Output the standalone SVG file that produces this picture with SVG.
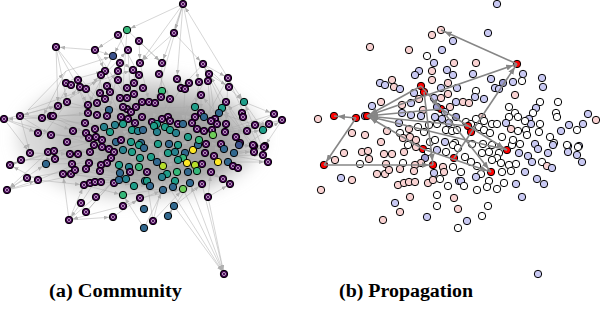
<svg xmlns="http://www.w3.org/2000/svg" xmlns:xlink="http://www.w3.org/1999/xlink" width="600" height="320" viewBox="0 0 600 320">
<style>
.ea path{fill:none;stroke:#a8a8a8;stroke-width:0.6;stroke-opacity:0.8;marker-end:url(#ha)}
.eb path{fill:none;stroke:#868686;stroke-width:1.6;marker-end:url(#hb)}
.w{fill:#ffffff}.p{fill:#f9d2d2}.b{fill:#c9c9f3}.d{fill:#9c9cd2}.r{fill:#ff0000}
.v1{fill:#3b528b}.v2{fill:#31688e}.v3{fill:#26828e}.v4{fill:#1f9e89}.v5{fill:#35b779}.v6{fill:#6ece58}.v7{fill:#b5de2b}.v8{fill:#fde725}
.lab{font-family:"Liberation Serif","Times New Roman",serif;font-weight:bold;font-size:18.5px;fill:#000}
</style>
<defs>
<marker id="ha" markerUnits="userSpaceOnUse" markerWidth="5" markerHeight="4" refX="9" refY="2" orient="auto"><path d="M0 0L5 2L0 4z" fill="#b0b0b0"/></marker>
<marker id="hb" markerUnits="userSpaceOnUse" markerWidth="7" markerHeight="6" refX="11" refY="3" orient="auto"><path d="M0 0L7 3L0 6z" fill="#868686"/></marker>
<circle id="c" r="3.7" stroke="#000" stroke-width="1"/>
<g id="pp"><circle r="3.7" fill="#440154" stroke="#000" stroke-width="1"/><circle r="1.6" fill="none" stroke="#fff" stroke-width="0.6"/></g>
<filter id="bl" x="-50%" y="-50%" width="200%" height="200%"><feGaussianBlur stdDeviation="8"/></filter>
</defs>
<rect width="600" height="320" fill="#fff"/>

<g id="density-a" filter="url(#bl)">
<ellipse cx="140" cy="138" rx="122" ry="62" fill="#c8c8c8" opacity="0.7"/>
<ellipse cx="150" cy="140" rx="100" ry="50" fill="#b0b0b0" opacity="0.6"/>
<ellipse cx="165" cy="145" rx="70" ry="40" fill="#8c8c8c" opacity="0.55"/>
</g>

<g id="connectors-a" class="ea">
<path d="M183 4L174 33"/><path d="M183 4L162 63"/><path d="M183 4L177 79"/><path d="M183 4L140 63"/><path d="M228 78L183 4"/><path d="M183 4L127 30"/><path d="M183 4L199 83"/>
<path d="M174 33L203 64"/><path d="M174 33L140 63"/><path d="M127 30L113 56"/><path d="M127 30L162 63"/><path d="M118 35L95 50"/><path d="M118 35L139 75"/>
<path d="M56 47L88 105"/><path d="M56 47L58 106"/><path d="M56 47L67 102"/><path d="M95 50L56 47"/><path d="M95 50L113 56"/><path d="M95 50L105 71"/><path d="M113 56L133 70"/>
<path d="M139 41L162 63"/><path d="M139 41L140 63"/><path d="M203 64L228 78"/><path d="M203 64L244 102"/><path d="M203 64L181 88"/><path d="M209 74L229 87"/><path d="M228 78L244 102"/><path d="M228 78L226 124"/>
<path d="M244 102L274 114"/><path d="M244 102L263 130"/><path d="M274 114L282 120"/><path d="M274 114L247 131"/><path d="M282 120L255 125"/><path d="M282 120L264 147"/>
<path d="M42 118L4 119"/><path d="M4 119L38 133"/><path d="M4 119L30 153"/><path d="M4 119L58 106"/><path d="M20 116L51 116"/><path d="M67 102L20 116"/><path d="M20 116L51 135"/><path d="M20 116L30 153"/>
<path d="M27 178L7 190"/><path d="M7 190L38 180"/><path d="M7 190L46 164"/><path d="M48 152L7 190"/><path d="M10 165L21 160"/><path d="M10 165L54 151"/><path d="M38 180L10 165"/><path d="M21 160L55 159"/>
<path d="M69 220L84 185"/><path d="M81 203L69 220"/><path d="M69 220L63 174"/><path d="M123 206L69 220"/><path d="M69 220L113 217"/><path d="M86 212L120 173"/><path d="M81 203L107 163"/><path d="M113 217L140 198"/>
<path d="M144 228L123 195"/><path d="M144 228L163 190"/><path d="M153 221L183 189"/><path d="M153 221L147 181"/><path d="M168 216L174 206"/><path d="M168 216L190 183"/><path d="M174 206L202 184"/><path d="M208 197L211 172"/><path d="M208 197L230 184"/>
<path d="M208 197L224 274"/><path d="M183 189L224 274"/><path d="M224 274L190 183"/><path d="M202 184L224 274"/><path d="M174 206L224 274"/>
<path d="M42 118L88 113"/><path d="M42 118L73 131"/><path d="M51 116L97 115"/><path d="M51 116L86 133"/><path d="M53 116L95 129"/><path d="M58 106L109 110"/><path d="M67 102L128 119"/><path d="M88 105L131 112"/>
<path d="M97 103L142 117"/><path d="M88 113L121 117"/><path d="M97 115L132 130"/><path d="M107 116L143 130"/><path d="M85 123L138 131"/><path d="M38 133L89 138"/><path d="M51 135L96 137"/><path d="M73 131L121 140"/>
<path d="M86 133L131 142"/><path d="M95 129L141 143"/><path d="M67 142L116 142"/><path d="M89 138L139 145"/><path d="M96 137L144 148"/><path d="M30 153L70 154"/><path d="M48 152L90 152"/><path d="M54 151L109 149"/>
<path d="M55 159L111 158"/><path d="M70 154L119 165"/><path d="M78 154L130 167"/><path d="M90 152L140 158"/><path d="M46 164L107 163"/><path d="M72 164L120 173"/><path d="M89 163L139 167"/><path d="M27 178L75 170"/>
<path d="M38 180L84 185"/><path d="M63 174L126 179"/><path d="M71 174L134 185"/><path d="M75 170L145 181"/><path d="M84 185L123 195"/><path d="M95 182L147 172"/><path d="M101 182L150 186"/><path d="M109 149L158 144"/>
<path d="M111 158L168 153"/><path d="M116 142L175 152"/><path d="M121 140L185 153"/><path d="M131 142L183 158"/><path d="M141 143L195 165"/><path d="M119 165L178 160"/><path d="M130 167L187 163"/><path d="M140 158L202 164"/>
<path d="M139 167L188 172"/><path d="M145 181L197 171"/><path d="M134 185L211 172"/><path d="M126 179L175 181"/><path d="M123 195L173 187"/><path d="M140 198L183 189"/><path d="M123 206L163 190"/>
<path d="M127 109L195 107"/><path d="M123 107L168 117"/><path d="M131 112L201 113"/><path d="M136 107L204 117"/><path d="M142 117L195 117"/><path d="M121 117L170 121"/><path d="M128 119L178 124"/><path d="M132 130L183 124"/>
<path d="M138 131L192 123"/><path d="M143 130L197 129"/><path d="M154 126L204 131"/><path d="M157 132L212 130"/><path d="M165 127L225 132"/><path d="M170 130L236 137"/><path d="M176 133L247 131"/><path d="M188 137L255 125"/>
<path d="M199 140L263 130"/><path d="M213 135L269 124"/><path d="M158 144L221 144"/><path d="M169 144L224 149"/><path d="M178 145L240 144"/><path d="M198 145L254 146"/><path d="M206 144L265 146"/><path d="M205 153L254 152"/>
<path d="M214 156L263 155"/><path d="M218 162L268 162"/><path d="M234 153L282 120"/><path d="M168 153L228 162"/><path d="M175 152L233 166"/><path d="M185 153L238 168"/><path d="M183 158L223 179"/><path d="M195 165L230 184"/><path d="M202 164L264 147"/>
<path d="M162 91L168 117"/><path d="M161 97L152 122"/><path d="M170 99L157 124"/><path d="M181 88L162 119"/><path d="M185 89L183 124"/><path d="M199 83L195 107"/><path d="M201 95L201 113"/><path d="M208 81L211 121"/>
<path d="M209 74L215 119"/><path d="M226 102L217 124"/><path d="M222 108L204 131"/><path d="M219 113L199 140"/><path d="M149 102L154 126"/><path d="M155 103L157 132"/><path d="M133 70L142 117"/><path d="M139 75L136 107"/>
<path d="M118 71L127 109"/><path d="M105 71L123 107"/><path d="M101 75L97 103"/><path d="M120 63L109 110"/><path d="M128 50L131 112"/><path d="M113 56L88 105"/><path d="M162 63L161 97"/><path d="M159 74L170 99"/><path d="M177 79L185 89"/><path d="M140 63L149 102"/>
<path d="M56 47L131 142"/><path d="M95 50L158 144"/><path d="M4 119L109 149"/><path d="M7 190L119 165"/><path d="M20 116L143 130"/><path d="M274 114L178 145"/><path d="M282 120L198 145"/><path d="M268 162L169 144"/>
<path d="M264 147L163 166"/><path d="M244 102L176 133"/><path d="M183 4L155 103"/><path d="M127 30L121 117"/><path d="M228 78L183 158"/><path d="M209 74L157 162"/><path d="M69 220L140 158"/><path d="M224 274L141 143"/>
<path d="M153 221L176 133"/><path d="M86 212L157 132"/><path d="M38 180L165 127"/><path d="M10 165L132 130"/>
<path d="M66 71L113 56"/><path d="M71 80L105 71"/><path d="M78 87L133 70"/><path d="M86 89L101 75"/><path d="M106 85L118 71"/><path d="M100 79L128 50"/><path d="M66 71L42 118"/><path d="M71 80L51 116"/>
<path d="M78 87L88 113"/><path d="M86 89L97 115"/><path d="M100 79L107 116"/><path d="M106 85L121 117"/><path d="M58 106L100 79"/><path d="M28 110L66 71"/><path d="M28 110L86 89"/><path d="M40 140L78 87"/>
<path d="M260 150L228 78"/><path d="M268 162L244 102"/><path d="M254 152L209 74"/><path d="M240 144L203 64"/><path d="M263 155L222 108"/><path d="M247 131L226 102"/><path d="M255 125L219 113"/><path d="M236 137L201 95"/>
</g>

<g id="nodes-a" transform="translate(-314 0)">
<use href="#c" class="v5" x="441" y="30"/><use href="#pp" x="432" y="35"/><use href="#pp" x="453" y="41"/><use href="#pp" x="370" y="47"/><use href="#pp" x="409" y="50"/><use href="#pp" x="442" y="50"/>
<use href="#c" class="v1" x="427" y="56"/><use href="#pp" x="434" y="63"/><use href="#pp" x="454" y="63"/><use href="#pp" x="419" y="71"/><use href="#pp" x="415" y="75"/><use href="#pp" x="432" y="71"/>
<use href="#pp" x="447" y="70"/><use href="#pp" x="453" y="75"/><use href="#pp" x="432" y="80"/><use href="#pp" x="448" y="83"/><use href="#pp" x="380" y="83"/><use href="#pp" x="385" y="85"/>
<use href="#pp" x="392" y="80"/><use href="#pp" x="394" y="87"/><use href="#pp" x="400" y="89"/><use href="#pp" x="421" y="86"/><use href="#pp" x="424" y="92"/><use href="#pp" x="414" y="93"/>
<use href="#pp" x="441" y="88"/><use href="#pp" x="457" y="88"/><use href="#pp" x="419" y="99"/><use href="#pp" x="434" y="98"/><use href="#pp" x="441" y="98"/><use href="#pp" x="448" y="94"/>
<use href="#pp" x="456" y="102"/><use href="#pp" x="372" y="106"/><use href="#pp" x="381" y="102"/><use href="#pp" x="402" y="105"/><use href="#pp" x="411" y="103"/><use href="#c" class="v2" x="423" y="110"/>
<use href="#pp" x="402" y="113"/><use href="#pp" x="411" y="115"/><use href="#pp" x="421" y="116"/><use href="#pp" x="441" y="109"/><use href="#pp" x="437" y="107"/><use href="#pp" x="445" y="112"/>
<use href="#pp" x="450" y="107"/><use href="#pp" x="456" y="117"/><use href="#pp" x="435" y="117"/><use href="#pp" x="442" y="119"/><use href="#pp" x="318" y="119"/><use href="#pp" x="334" y="116"/>
<use href="#pp" x="356" y="118"/><use href="#pp" x="365" y="116"/><use href="#pp" x="367" y="116"/><use href="#pp" x="399" y="123"/><use href="#pp" x="352" y="133"/><use href="#pp" x="365" y="135"/>
<use href="#pp" x="387" y="131"/><use href="#pp" x="400" y="133"/><use href="#pp" x="409" y="129"/><use href="#c" class="v3" x="418" y="127"/><use href="#c" class="v4" x="424" y="132"/><use href="#c" class="v4" x="446" y="130"/>
<use href="#c" class="v3" x="452" y="131"/><use href="#c" class="v2" x="457" y="130"/><use href="#pp" x="381" y="142"/><use href="#pp" x="403" y="138"/><use href="#pp" x="410" y="137"/><use href="#pp" x="416" y="140"/>
<use href="#c" class="v2" x="430" y="142"/><use href="#pp" x="435" y="140"/><use href="#c" class="v4" x="445" y="142"/><use href="#c" class="v2" x="455" y="143"/><use href="#pp" x="408" y="145"/><use href="#pp" x="423" y="149"/>
<use href="#c" class="v3" x="429" y="125"/><use href="#c" class="v4" x="437" y="124"/><use href="#pp" x="428" y="152"/><use href="#c" class="v3" x="437" y="150"/><use href="#c" class="v4" x="446" y="152"/><use href="#pp" x="449" y="123"/>
<use href="#pp" x="324" y="165"/><use href="#pp" x="335" y="160"/><use href="#pp" x="344" y="153"/><use href="#pp" x="362" y="152"/><use href="#pp" x="368" y="151"/><use href="#pp" x="369" y="159"/>
<use href="#pp" x="384" y="154"/><use href="#pp" x="392" y="154"/><use href="#pp" x="404" y="152"/><use href="#pp" x="416" y="147"/><use href="#pp" x="425" y="158"/><use href="#pp" x="421" y="163"/>
<use href="#c" class="v2" x="360" y="164"/><use href="#pp" x="386" y="164"/><use href="#pp" x="403" y="163"/><use href="#pp" x="400" y="169"/><use href="#pp" x="415" y="165"/><use href="#c" class="v4" x="433" y="165"/>
<use href="#c" class="v2" x="434" y="173"/><use href="#c" class="v3" x="443" y="167"/><use href="#pp" x="444" y="172"/><use href="#c" class="v4" x="454" y="158"/><use href="#c" class="v5" x="453" y="167"/><use href="#c" class="v2" x="459" y="181"/>
<use href="#pp" x="341" y="178"/><use href="#pp" x="352" y="180"/><use href="#pp" x="321" y="190"/><use href="#pp" x="377" y="174"/><use href="#pp" x="385" y="174"/><use href="#pp" x="389" y="170"/>
<use href="#pp" x="414" y="171"/><use href="#pp" x="398" y="185"/><use href="#pp" x="404" y="183"/><use href="#pp" x="409" y="182"/><use href="#pp" x="415" y="182"/><use href="#pp" x="428" y="183"/>
<use href="#c" class="v2" x="433" y="180"/><use href="#c" class="v3" x="440" y="179"/><use href="#c" class="v4" x="448" y="186"/><use href="#c" class="v5" x="437" y="195"/><use href="#pp" x="437" y="206"/><use href="#pp" x="454" y="198"/>
<use href="#c" class="v2" x="458" y="209"/><use href="#pp" x="410" y="197"/><use href="#pp" x="395" y="203"/><use href="#pp" x="400" y="212"/><use href="#pp" x="383" y="220"/><use href="#pp" x="427" y="217"/>
<use href="#c" class="v2" x="458" y="228"/><use href="#c" class="v8" x="507" y="150"/><use href="#c" class="v5" x="491" y="172"/><use href="#c" class="v4" x="453" y="145"/><use href="#c" class="v2" x="458" y="148"/><use href="#c" class="v4" x="472" y="144"/>
<use href="#c" class="v2" x="483" y="144"/><use href="#c" class="v4" x="492" y="145"/><use href="#c" class="v2" x="512" y="145"/><use href="#pp" x="520" y="144"/><use href="#pp" x="535" y="144"/><use href="#c" class="v2" x="538" y="149"/>
<use href="#pp" x="554" y="143"/><use href="#pp" x="568" y="146"/><use href="#pp" x="568" y="152"/><use href="#pp" x="579" y="146"/><use href="#pp" x="577" y="155"/><use href="#pp" x="582" y="162"/>
<use href="#pp" x="519" y="153"/><use href="#pp" x="528" y="156"/><use href="#c" class="v8" x="532" y="162"/><use href="#c" class="v2" x="548" y="153"/><use href="#c" class="v2" x="542" y="162"/><use href="#pp" x="547" y="166"/>
<use href="#pp" x="552" y="168"/><use href="#c" class="v4" x="482" y="153"/><use href="#c" class="v3" x="489" y="152"/><use href="#c" class="v2" x="499" y="153"/><use href="#c" class="v5" x="497" y="158"/><use href="#c" class="v4" x="492" y="160"/>
<use href="#c" class="v8" x="501" y="163"/><use href="#c" class="v7" x="509" y="165"/><use href="#pp" x="516" y="164"/><use href="#c" class="v7" x="477" y="166"/><use href="#c" class="v2" x="471" y="162"/><use href="#c" class="v4" x="465" y="157"/>
<use href="#pp" x="461" y="172"/><use href="#c" class="v4" x="481" y="174"/><use href="#c" class="v3" x="476" y="177"/><use href="#c" class="v2" x="502" y="172"/><use href="#c" class="v5" x="511" y="171"/><use href="#pp" x="525" y="172"/>
<use href="#pp" x="537" y="179"/><use href="#pp" x="544" y="184"/><use href="#c" class="v4" x="489" y="181"/><use href="#c" class="v2" x="487" y="187"/><use href="#c" class="v6" x="497" y="189"/><use href="#c" class="v2" x="504" y="183"/>
<use href="#pp" x="516" y="184"/><use href="#c" class="v4" x="461" y="181"/><use href="#c" class="v2" x="464" y="186"/><use href="#c" class="v2" x="477" y="190"/><use href="#pp" x="522" y="197"/><use href="#c" class="v2" x="488" y="206"/>
<use href="#c" class="v2" x="482" y="216"/><use href="#pp" x="467" y="221"/><use href="#pp" x="538" y="274"/><use href="#pp" x="488" y="33"/><use href="#pp" x="517" y="64"/><use href="#pp" x="476" y="63"/>
<use href="#pp" x="473" y="74"/><use href="#pp" x="491" y="79"/><use href="#pp" x="503" y="83"/><use href="#pp" x="495" y="88"/><use href="#pp" x="499" y="89"/><use href="#pp" x="513" y="82"/>
<use href="#pp" x="523" y="74"/><use href="#pp" x="522" y="81"/><use href="#pp" x="542" y="78"/><use href="#pp" x="543" y="87"/><use href="#c" class="v5" x="476" y="91"/><use href="#pp" x="475" y="97"/>
<use href="#pp" x="484" y="99"/><use href="#pp" x="515" y="95"/><use href="#pp" x="463" y="102"/><use href="#pp" x="469" y="103"/><use href="#pp" x="540" y="102"/><use href="#c" class="v4" x="558" y="102"/>
<use href="#c" class="v4" x="536" y="108"/><use href="#c" class="v2" x="533" y="113"/><use href="#pp" x="529" y="119"/><use href="#pp" x="531" y="124"/><use href="#pp" x="525" y="121"/><use href="#pp" x="540" y="124"/>
<use href="#pp" x="556" y="113"/><use href="#pp" x="557" y="117"/><use href="#c" class="v4" x="509" y="107"/><use href="#pp" x="515" y="113"/><use href="#c" class="v2" x="518" y="117"/><use href="#pp" x="509" y="117"/>
<use href="#pp" x="482" y="117"/><use href="#pp" x="484" y="121"/><use href="#pp" x="466" y="122"/><use href="#c" class="v4" x="471" y="124"/><use href="#pp" x="476" y="119"/><use href="#pp" x="492" y="124"/>
<use href="#c" class="v2" x="497" y="124"/><use href="#pp" x="506" y="123"/><use href="#pp" x="511" y="129"/><use href="#pp" x="518" y="131"/><use href="#pp" x="526" y="130"/><use href="#pp" x="539" y="132"/>
<use href="#pp" x="550" y="137"/><use href="#pp" x="561" y="131"/><use href="#pp" x="569" y="125"/><use href="#c" class="v4" x="577" y="130"/><use href="#pp" x="583" y="124"/><use href="#pp" x="588" y="114"/>
<use href="#pp" x="596" y="120"/><use href="#c" class="v4" x="468" y="126"/><use href="#c" class="v3" x="471" y="132"/><use href="#c" class="v4" x="479" y="127"/><use href="#c" class="v4" x="484" y="130"/><use href="#c" class="v3" x="490" y="133"/>
<use href="#c" class="v4" x="502" y="137"/><use href="#c" class="v5" x="513" y="140"/><use href="#c" class="v6" x="527" y="135"/><use href="#c" class="v1" x="553" y="145"/><use href="#pp" x="567" y="145"/><use href="#pp" x="578" y="147"/>
<use href="#pp" x="497" y="4"/>
</g>

<g id="nodes-b">
<use href="#c" class="p" x="441" y="30"/><use href="#c" class="p" x="432" y="35"/><use href="#c" class="b" x="453" y="41"/><use href="#c" class="p" x="370" y="47"/><use href="#c" class="p" x="409" y="50"/><use href="#c" class="b" x="442" y="50"/>
<use href="#c" class="w" x="427" y="56"/><use href="#c" class="b" x="434" y="63"/><use href="#c" class="p" x="454" y="63"/><use href="#c" class="b" x="419" y="71"/><use href="#c" class="b" x="415" y="75"/><use href="#c" class="p" x="432" y="71"/>
<use href="#c" class="b" x="447" y="70"/><use href="#c" class="b" x="453" y="75"/><use href="#c" class="p" x="432" y="80"/><use href="#c" class="p" x="448" y="83"/><use href="#c" class="b" x="380" y="83"/><use href="#c" class="b" x="385" y="85"/>
<use href="#c" class="p" x="392" y="80"/><use href="#c" class="p" x="394" y="87"/><use href="#c" class="b" x="400" y="89"/><use href="#c" class="r" x="421" y="86"/><use href="#c" class="r" x="424" y="92"/><use href="#c" class="b" x="414" y="93"/>
<use href="#c" class="b" x="441" y="88"/><use href="#c" class="b" x="457" y="88"/><use href="#c" class="p" x="419" y="99"/><use href="#c" class="b" x="434" y="98"/><use href="#c" class="p" x="441" y="98"/><use href="#c" class="p" x="448" y="94"/>
<use href="#c" class="b" x="456" y="102"/><use href="#c" class="b" x="372" y="106"/><use href="#c" class="p" x="381" y="102"/><use href="#c" class="p" x="402" y="105"/><use href="#c" class="b" x="411" y="103"/><use href="#c" class="p" x="423" y="110"/>
<use href="#c" class="b" x="402" y="113"/><use href="#c" class="b" x="411" y="115"/><use href="#c" class="b" x="421" y="116"/><use href="#c" class="r" x="441" y="109"/><use href="#c" class="d" x="437" y="107"/><use href="#c" class="b" x="445" y="112"/>
<use href="#c" class="p" x="450" y="107"/><use href="#c" class="d" x="456" y="117"/><use href="#c" class="b" x="435" y="117"/><use href="#c" class="b" x="442" y="119"/><use href="#c" class="p" x="318" y="119"/><use href="#c" class="r" x="334" y="116"/>
<use href="#c" class="r" x="356" y="118"/><use href="#c" class="d" x="365" y="116"/><use href="#c" class="r" x="367" y="116"/><use href="#c" class="b" x="399" y="123"/><use href="#c" class="p" x="352" y="133"/><use href="#c" class="p" x="365" y="135"/>
<use href="#c" class="p" x="387" y="131"/><use href="#c" class="w" x="400" y="133"/><use href="#c" class="p" x="409" y="129"/><use href="#c" class="w" x="418" y="127"/><use href="#c" class="w" x="424" y="132"/><use href="#c" class="w" x="446" y="130"/>
<use href="#c" class="w" x="452" y="131"/><use href="#c" class="w" x="457" y="130"/><use href="#c" class="p" x="381" y="142"/><use href="#c" class="p" x="403" y="138"/><use href="#c" class="p" x="410" y="137"/><use href="#c" class="p" x="416" y="140"/>
<use href="#c" class="w" x="430" y="142"/><use href="#c" class="w" x="435" y="140"/><use href="#c" class="b" x="445" y="142"/><use href="#c" class="w" x="455" y="143"/><use href="#c" class="w" x="408" y="145"/><use href="#c" class="r" x="423" y="149"/>
<use href="#c" class="w" x="429" y="125"/><use href="#c" class="w" x="437" y="124"/><use href="#c" class="w" x="428" y="152"/><use href="#c" class="b" x="437" y="150"/><use href="#c" class="w" x="446" y="152"/><use href="#c" class="b" x="449" y="123"/>
<use href="#c" class="r" x="324" y="165"/><use href="#c" class="p" x="335" y="160"/><use href="#c" class="p" x="344" y="153"/><use href="#c" class="p" x="362" y="152"/><use href="#c" class="p" x="368" y="151"/><use href="#c" class="p" x="369" y="159"/>
<use href="#c" class="p" x="384" y="154"/><use href="#c" class="p" x="392" y="154"/><use href="#c" class="p" x="404" y="152"/><use href="#c" class="p" x="416" y="147"/><use href="#c" class="d" x="425" y="158"/><use href="#c" class="p" x="421" y="163"/>
<use href="#c" class="w" x="360" y="164"/><use href="#c" class="p" x="386" y="164"/><use href="#c" class="w" x="403" y="163"/><use href="#c" class="p" x="400" y="169"/><use href="#c" class="p" x="415" y="165"/><use href="#c" class="r" x="433" y="165"/>
<use href="#c" class="b" x="434" y="173"/><use href="#c" class="p" x="443" y="167"/><use href="#c" class="p" x="444" y="172"/><use href="#c" class="r" x="454" y="158"/><use href="#c" class="w" x="453" y="167"/><use href="#c" class="b" x="459" y="181"/>
<use href="#c" class="b" x="341" y="178"/><use href="#c" class="p" x="352" y="180"/><use href="#c" class="p" x="321" y="190"/><use href="#c" class="p" x="377" y="174"/><use href="#c" class="p" x="385" y="174"/><use href="#c" class="p" x="389" y="170"/>
<use href="#c" class="p" x="414" y="171"/><use href="#c" class="p" x="398" y="185"/><use href="#c" class="p" x="404" y="183"/><use href="#c" class="p" x="409" y="182"/><use href="#c" class="p" x="415" y="182"/><use href="#c" class="p" x="428" y="183"/>
<use href="#c" class="p" x="433" y="180"/><use href="#c" class="w" x="440" y="179"/><use href="#c" class="w" x="448" y="186"/><use href="#c" class="w" x="437" y="195"/><use href="#c" class="w" x="437" y="206"/><use href="#c" class="p" x="454" y="198"/>
<use href="#c" class="p" x="458" y="209"/><use href="#c" class="p" x="410" y="197"/><use href="#c" class="b" x="395" y="203"/><use href="#c" class="p" x="400" y="212"/><use href="#c" class="p" x="383" y="220"/><use href="#c" class="b" x="427" y="217"/>
<use href="#c" class="w" x="458" y="228"/><use href="#c" class="r" x="507" y="150"/><use href="#c" class="r" x="491" y="172"/><use href="#c" class="w" x="453" y="145"/><use href="#c" class="w" x="458" y="148"/><use href="#c" class="w" x="472" y="144"/>
<use href="#c" class="w" x="483" y="144"/><use href="#c" class="w" x="492" y="145"/><use href="#c" class="w" x="512" y="145"/><use href="#c" class="w" x="520" y="144"/><use href="#c" class="b" x="535" y="144"/><use href="#c" class="b" x="538" y="149"/>
<use href="#c" class="w" x="554" y="143"/><use href="#c" class="b" x="568" y="146"/><use href="#c" class="b" x="568" y="152"/><use href="#c" class="b" x="579" y="146"/><use href="#c" class="b" x="577" y="155"/><use href="#c" class="b" x="582" y="162"/>
<use href="#c" class="b" x="519" y="153"/><use href="#c" class="b" x="528" y="156"/><use href="#c" class="b" x="532" y="162"/><use href="#c" class="b" x="548" y="153"/><use href="#c" class="w" x="542" y="162"/><use href="#c" class="p" x="547" y="166"/>
<use href="#c" class="b" x="552" y="168"/><use href="#c" class="w" x="482" y="153"/><use href="#c" class="w" x="489" y="152"/><use href="#c" class="w" x="499" y="153"/><use href="#c" class="w" x="497" y="158"/><use href="#c" class="w" x="492" y="160"/>
<use href="#c" class="w" x="501" y="163"/><use href="#c" class="w" x="509" y="165"/><use href="#c" class="w" x="516" y="164"/><use href="#c" class="w" x="477" y="166"/><use href="#c" class="w" x="471" y="162"/><use href="#c" class="w" x="465" y="157"/>
<use href="#c" class="w" x="461" y="172"/><use href="#c" class="w" x="481" y="174"/><use href="#c" class="b" x="476" y="177"/><use href="#c" class="w" x="502" y="172"/><use href="#c" class="w" x="511" y="171"/><use href="#c" class="b" x="525" y="172"/>
<use href="#c" class="b" x="537" y="179"/><use href="#c" class="b" x="544" y="184"/><use href="#c" class="w" x="489" y="181"/><use href="#c" class="w" x="487" y="187"/><use href="#c" class="w" x="497" y="189"/><use href="#c" class="w" x="504" y="183"/>
<use href="#c" class="b" x="516" y="184"/><use href="#c" class="b" x="461" y="181"/><use href="#c" class="w" x="464" y="186"/><use href="#c" class="w" x="477" y="190"/><use href="#c" class="b" x="522" y="197"/><use href="#c" class="w" x="488" y="206"/>
<use href="#c" class="w" x="482" y="216"/><use href="#c" class="b" x="467" y="221"/><use href="#c" class="b" x="538" y="274"/><use href="#c" class="b" x="488" y="33"/><use href="#c" class="r" x="517" y="64"/><use href="#c" class="p" x="476" y="63"/>
<use href="#c" class="b" x="473" y="74"/><use href="#c" class="b" x="491" y="79"/><use href="#c" class="d" x="503" y="83"/><use href="#c" class="b" x="495" y="88"/><use href="#c" class="b" x="499" y="89"/><use href="#c" class="b" x="513" y="82"/>
<use href="#c" class="b" x="523" y="74"/><use href="#c" class="w" x="522" y="81"/><use href="#c" class="b" x="542" y="78"/><use href="#c" class="b" x="543" y="87"/><use href="#c" class="w" x="476" y="91"/><use href="#c" class="b" x="475" y="97"/>
<use href="#c" class="b" x="484" y="99"/><use href="#c" class="p" x="515" y="95"/><use href="#c" class="p" x="463" y="102"/><use href="#c" class="p" x="469" y="103"/><use href="#c" class="w" x="540" y="102"/><use href="#c" class="w" x="558" y="102"/>
<use href="#c" class="b" x="536" y="108"/><use href="#c" class="w" x="533" y="113"/><use href="#c" class="b" x="529" y="119"/><use href="#c" class="b" x="531" y="124"/><use href="#c" class="w" x="525" y="121"/><use href="#c" class="w" x="540" y="124"/>
<use href="#c" class="w" x="556" y="113"/><use href="#c" class="w" x="557" y="117"/><use href="#c" class="w" x="509" y="107"/><use href="#c" class="w" x="515" y="113"/><use href="#c" class="w" x="518" y="117"/><use href="#c" class="w" x="509" y="117"/>
<use href="#c" class="p" x="482" y="117"/><use href="#c" class="w" x="484" y="121"/><use href="#c" class="w" x="466" y="122"/><use href="#c" class="w" x="471" y="124"/><use href="#c" class="w" x="476" y="119"/><use href="#c" class="w" x="492" y="124"/>
<use href="#c" class="w" x="497" y="124"/><use href="#c" class="b" x="506" y="123"/><use href="#c" class="p" x="511" y="129"/><use href="#c" class="w" x="518" y="131"/><use href="#c" class="w" x="526" y="130"/><use href="#c" class="w" x="539" y="132"/>
<use href="#c" class="w" x="550" y="137"/><use href="#c" class="b" x="561" y="131"/><use href="#c" class="b" x="569" y="125"/><use href="#c" class="w" x="577" y="130"/><use href="#c" class="b" x="583" y="124"/><use href="#c" class="b" x="588" y="114"/>
<use href="#c" class="p" x="596" y="120"/><use href="#c" class="r" x="468" y="126"/><use href="#c" class="r" x="471" y="132"/><use href="#c" class="w" x="479" y="127"/><use href="#c" class="w" x="484" y="130"/><use href="#c" class="w" x="490" y="133"/>
<use href="#c" class="w" x="502" y="137"/><use href="#c" class="w" x="513" y="140"/><use href="#c" class="w" x="527" y="135"/><use href="#c" class="b" x="553" y="145"/><use href="#c" class="w" x="567" y="145"/><use href="#c" class="w" x="578" y="147"/>
<use href="#c" class="b" x="497" y="4"/>
</g>

<g id="connectors-b" class="eb">
<path d="M517 64L441 30"/><path d="M367 116L517 64"/><path d="M356 118L334 116"/><path d="M356 118L324 165"/><path d="M324 165L433 165"/>
<path d="M441 109L367 116"/><path d="M421 86L367 116"/><path d="M468 126L367 116"/><path d="M507 150L367 116"/><path d="M423 149L367 116"/>
<path d="M424 92L433 165"/><path d="M441 109L491 172"/><path d="M423 149L491 172"/><path d="M454 158L517 64"/><path d="M441 109L507 150"/><path d="M421 86L441 109"/>
</g>

<text class="lab" x="115.5" y="297" text-anchor="middle" textLength="133" lengthAdjust="spacingAndGlyphs">(a) Community</text>
<text class="lab" x="406" y="297" text-anchor="middle" textLength="134" lengthAdjust="spacingAndGlyphs">(b) Propagation</text>
</svg>
